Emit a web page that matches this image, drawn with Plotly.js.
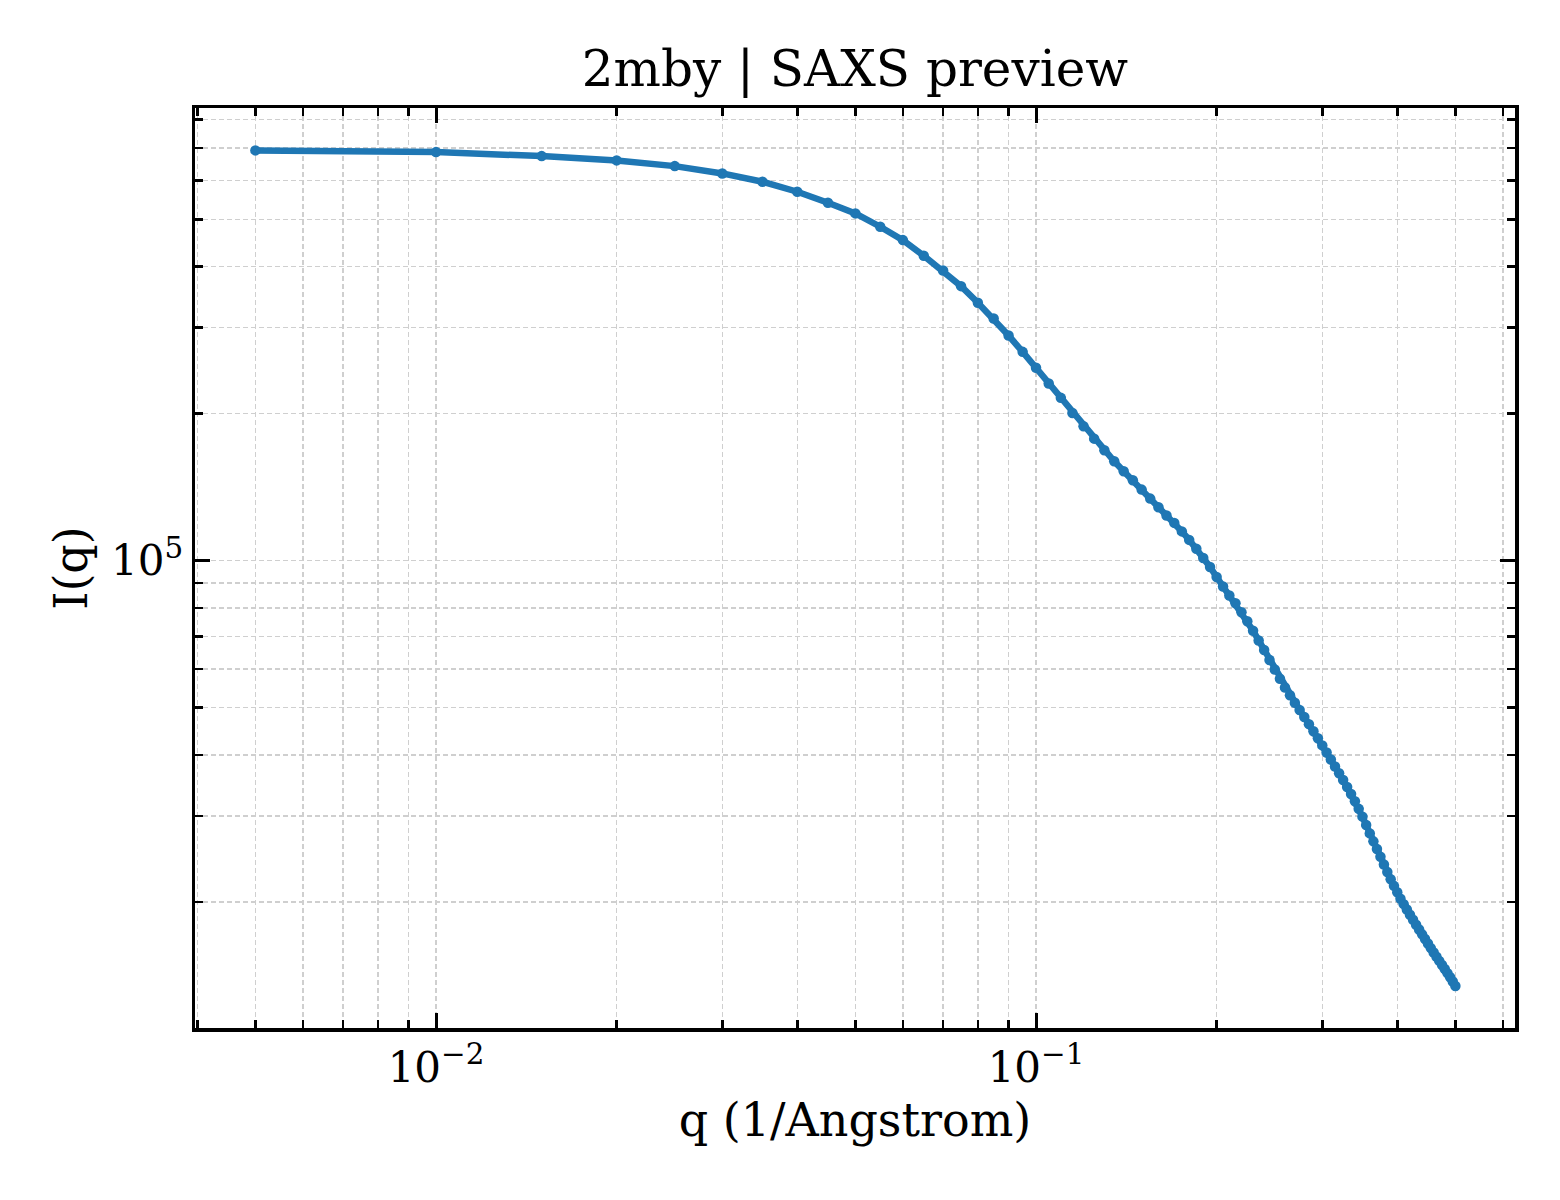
<!DOCTYPE html>
<html>
<head>
<meta charset="utf-8">
<script src="https://cdn.plot.ly/plotly-3.0.1.min.js"></script>
<style>
  body { margin: 0; background: #fff; }
  #plot { width: 1560px; height: 1200px; }
</style>
</head>
<body>
<div id="plot"></div>
<script>
// scattering vector q (1/Angstrom)
var q = [
  0.005, 0.010, 0.015, 0.020, 0.025, 0.030, 0.035, 0.040, 0.045, 0.050,
  0.055, 0.060, 0.065, 0.070, 0.075, 0.080, 0.085, 0.090, 0.095, 0.100,
  0.105, 0.110, 0.115, 0.120, 0.125, 0.130, 0.135, 0.140, 0.145, 0.150,
  0.155, 0.160, 0.165, 0.170, 0.175, 0.180, 0.185, 0.190, 0.195, 0.200,
  0.205, 0.210, 0.215, 0.220, 0.225, 0.230, 0.235, 0.240, 0.245, 0.250,
  0.255, 0.260, 0.265, 0.270, 0.275, 0.280, 0.285, 0.290, 0.295, 0.300,
  0.305, 0.310, 0.315, 0.320, 0.325, 0.330, 0.335, 0.340, 0.345, 0.350,
  0.355, 0.360, 0.365, 0.370, 0.375, 0.380, 0.385, 0.390, 0.395, 0.400,
  0.405, 0.410, 0.415, 0.420, 0.425, 0.430, 0.435, 0.440, 0.445, 0.450,
  0.455, 0.460, 0.465, 0.470, 0.475, 0.480, 0.485, 0.490, 0.495, 0.500
];

// intensity I(q)
var intensity = [
  692100, 686500, 673700, 660200, 642700, 620900, 597000, 569500, 540800, 514200,
  482900, 453400, 421100, 392900, 364900, 337500, 313300, 289100, 267700, 248300,
  230600, 215500, 200700, 188500, 177800, 168300, 159800, 152400, 146100, 139800,
  134000, 128600, 123700, 119500, 114800, 110300, 105800, 101300, 97070, 92600,
  88570, 84890, 81820, 78430, 75160, 71870, 68650, 65610, 62610, 59870,
  57320, 54970, 53030, 51190, 49460, 47830, 46260, 44750, 43280, 41850,
  40490, 39160, 37890, 36690, 35550, 34400, 33280, 32150, 31030, 29910,
  28760, 27640, 26620, 25670, 24750, 23870, 23040, 22260, 21580, 20940,
  20310, 19800, 19310, 18840, 18400, 17970, 17570, 17170, 16800, 16440,
  16090, 15760, 15450, 15150, 14860, 14580, 14300, 14030, 13750, 13460
];

// tick positions and labels
var xMajor = [0.01, 0.1];
var xMajorText = ['10<sup>\u22122</sup>', '10<sup>\u22121</sup>'];
var xMinor = [0.004, 0.005, 0.006, 0.007, 0.008, 0.009,
              0.02, 0.03, 0.04, 0.05, 0.06, 0.07, 0.08, 0.09,
              0.2, 0.3, 0.4, 0.5, 0.6];
var yMajor = [1e5];
var yMajorText = ['10<sup>5</sup>'];
var yMinor = [2e4, 3e4, 4e4, 5e4, 6e4, 7e4, 8e4, 9e4,
              2e5, 3e5, 4e5, 5e5, 6e5, 7e5, 8e5];

var font = 'DejaVu Serif, Liberation Serif, serif';
var gridColor = '#cfcfcf';

var trace = {
  x: q,
  y: intensity,
  type: 'scatter',
  mode: 'lines+markers',
  line: {color: '#1f77b4', width: 6.5},
  marker: {color: '#1f77b4', size: 10.5},
  showlegend: false
};

function axis(major, majorText, minor, range) {
  return {
    type: 'log',
    range: range,
    tickmode: 'array',
    tickvals: major,
    ticktext: majorText,
    ticks: 'inside',
    ticklen: 15,
    tickwidth: 3,
    tickcolor: '#000',
    mirror: 'ticks',
    showline: true,
    linewidth: 3.5,
    linecolor: '#000',
    showgrid: true,
    gridcolor: gridColor,
    gridwidth: 1.5,
    griddash: '5px,3px',
    zeroline: false,
    tickfont: {family: font, size: 42, color: '#000'},
    minor: {
      tickmode: 'array',
      tickvals: minor,
      ticks: 'inside',
      ticklen: 8,
      tickwidth: 2.5,
      tickcolor: '#000',
      showgrid: true,
      gridcolor: gridColor,
      gridwidth: 1.5,
      griddash: '5px,3px'
    }
  };
}

var xaxis = axis(xMajor, xMajorText, xMinor, [-2.4017, -0.2017]);
xaxis.title = {text: 'q (1/Angstrom)', font: {family: font, size: 46, color: '#000'}, standoff: 14};
var yaxis = axis(yMajor, yMajorText, yMinor, [4.043, 5.927]);
yaxis.title = {text: 'I(q)', font: {family: font, size: 46, color: '#000'}, standoff: 10};

var layout = {
  width: 1560,
  height: 1200,
  margin: {l: 195, r: 45, t: 108, b: 172},
  paper_bgcolor: '#fff',
  plot_bgcolor: '#fff',
  title: {
    text: '2mby | SAXS preview',
    font: {family: font, size: 50, color: '#000'},
    x: 0.548,
    xanchor: 'center',
    xref: 'container',
    y: 1 - 68 / 1200,
    yanchor: 'middle',
    yref: 'container'
  },
  xaxis: xaxis,
  yaxis: yaxis
};

Plotly.newPlot('plot', [trace], layout, {displayModeBar: false, staticPlot: true});
</script>
</body>
</html>
